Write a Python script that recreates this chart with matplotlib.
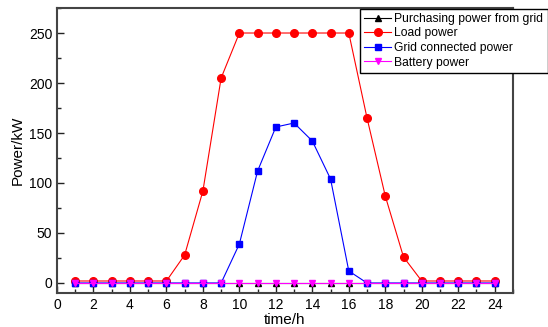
import matplotlib
matplotlib.use("Agg")
import matplotlib.pyplot as plt
from matplotlib.ticker import MultipleLocator

plt.rcParams['font.family'] = ['Liberation Sans', 'DejaVu Sans']

hours = list(range(1, 25))
purchase = [0]*24
load = [2, 2, 2, 2, 2, 2, 28, 92, 205, 250, 250, 250, 250, 250, 250, 250,
        165, 87, 26, 2, 2, 2, 2, 2]
grid = [0, 0, 0, 0, 0, 0, 0, 0, 0, 39, 112, 156, 160, 142, 104, 12,
        0, 0, 0, 0, 0, 0, 0, 0]
battery = [0]*24

labels = ["Purchasing power from grid", "Load power", "Grid connected power", "Battery power"]

fig = plt.figure(figsize=(5.48, 3.27), dpi=100)
ax = fig.add_axes([0.104, 0.104, 0.832, 0.8715])

lw = 0.8
ax.plot(hours, purchase, color='black', marker='^', ms=5, lw=lw, label=labels[0])
ax.plot(hours, load, color='#ff0000', marker='o', ms=5.5, lw=lw, label=labels[1])
ax.plot(hours, grid, color='#0000ff', marker='s', ms=4.6, lw=lw, label=labels[2])
ax.plot(hours, battery, color='#ff00ff', marker='v', ms=5, lw=lw, label=labels[3])

ax.set_xlim(0, 25)
ax.set_ylim(-10, 275)
ax.xaxis.set_major_locator(MultipleLocator(2))
ax.xaxis.set_minor_locator(MultipleLocator(1))
ax.yaxis.set_major_locator(MultipleLocator(50))
ax.yaxis.set_minor_locator(MultipleLocator(25))
ax.tick_params(which='both', direction='in', top=False, right=False, labelsize=10, color='#222222')
ax.tick_params(which='major', length=5, width=1)
ax.tick_params(which='minor', length=3, width=1)
for s in ax.spines.values():
    s.set_linewidth(1.5)
    s.set_color('#444444')

ax.set_xlabel("time/h", fontsize=11, labelpad=0.5)
ax.set_ylabel("Power/kW", fontsize=11, labelpad=3)

leg = fig.legend(loc='upper right', bbox_to_anchor=(0.9995, 0.974), fontsize=8.7,
                 frameon=True, fancybox=False, edgecolor='black', framealpha=1,
                 borderpad=0.35, labelspacing=0.22, handlelength=2.2, handletextpad=0.3,
                 borderaxespad=0)
leg.get_frame().set_linewidth(1.0)

fig.savefig("out.png", dpi=100)
